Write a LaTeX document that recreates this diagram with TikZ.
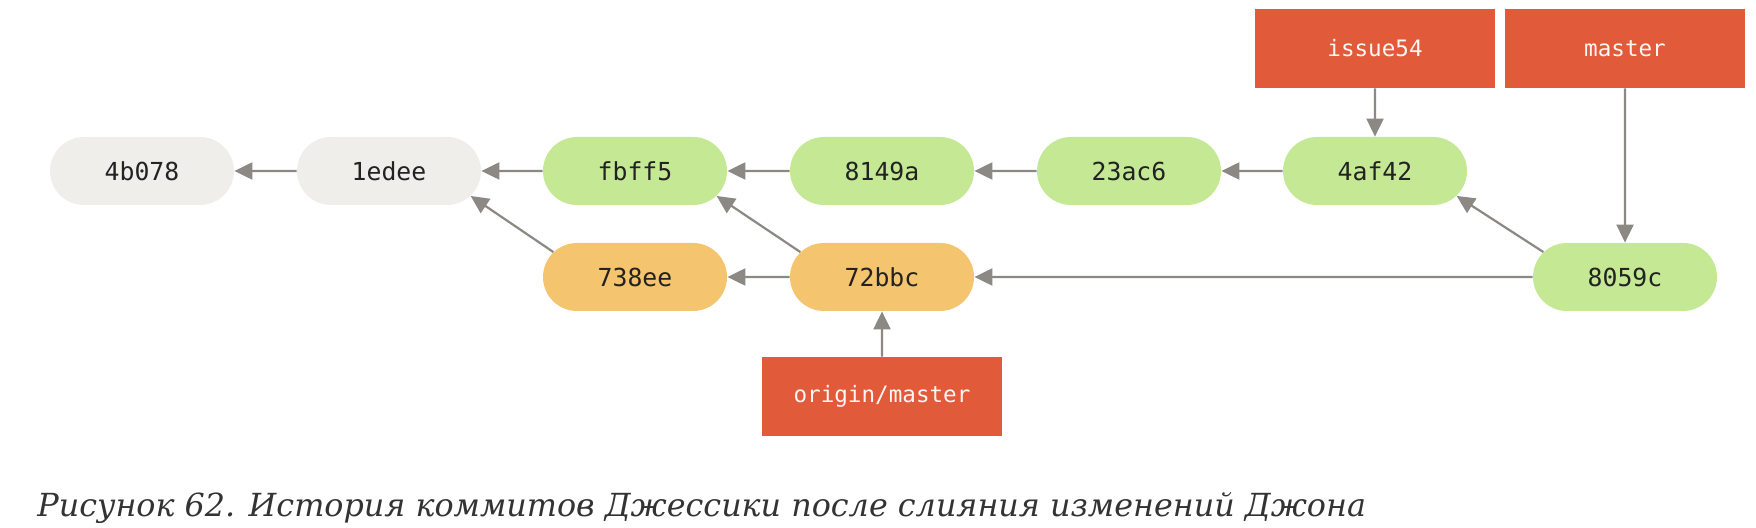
\documentclass[tikz,border=0pt]{standalone}
\usepackage{fontspec}
\setmainfont{DejaVu Serif}
\setmonofont{DejaVu Sans Mono}
\usetikzlibrary{arrows.meta,shapes.misc}
\definecolor{cgrey}{HTML}{EFEEEA}
\definecolor{cgreen}{HTML}{C4E894}
\definecolor{corange}{HTML}{F4C46F}
\definecolor{cred}{HTML}{E15A3A}
\definecolor{carrow}{HTML}{8C8883}
\definecolor{ctext}{HTML}{222222}
\definecolor{ccap}{HTML}{333333}
\begin{document}
\begin{tikzpicture}[x=0.5pt,y=-0.5pt,
  commit/.style={rounded rectangle, minimum width=92pt, minimum height=34pt, inner sep=0pt,
    font=\ttfamily\fontsize{12.4}{14}\selectfont, text=ctext},
  branch/.style={rectangle, fill=cred, minimum width=120pt, minimum height=39.5pt, inner sep=0pt,
    font=\ttfamily\fontsize{11.3}{13}\selectfont, text=white!94!cred},
  link/.style={-{Triangle[length=9pt,width=8.5pt]}, draw=carrow, fill=carrow, line width=1.1pt}]
\useasboundingbox (0,0) rectangle (1756,528);
% commits
\node[commit, fill=cgrey] (n4b078) at (142,171) {4b078};
\node[commit, fill=cgrey] (n1edee) at (389,171) {1edee};
\node[commit, fill=cgreen] (nfbff5) at (635,171) {fbff5};
\node[commit, fill=cgreen] (n8149a) at (882,171) {8149a};
\node[commit, fill=cgreen] (n23ac6) at (1129,171) {23ac6};
\node[commit, fill=cgreen] (n4af42) at (1375,171) {4af42};
\node[commit, fill=corange] (n738ee) at (635,277) {738ee};
\node[commit, fill=corange] (n72bbc) at (882,277) {72bbc};
\node[commit, fill=cgreen] (n8059c) at (1625,277) {8059c};
% branches
\node[branch] (issue) at (1375,48.5) {issue54};
\node[branch] (master) at (1625,48.5) {master};
\node[branch] (origin) at (882,396.5) {origin/master};
\draw[link] (n1edee) -- (n4b078);
\draw[link] (nfbff5) -- (n1edee);
\draw[link] (n8149a) -- (nfbff5);
\draw[link] (n23ac6) -- (n8149a);
\draw[link] (n4af42) -- (n23ac6);
\draw[link] (n72bbc) -- (n738ee);
\draw[link] (n8059c) -- (n72bbc);
\draw[link] (n738ee.163) -- (n1edee.-17);
\draw[link] (n72bbc.163) -- (nfbff5.-17);
\draw[link] (n8059c.163) -- (n4af42.-17);
\draw[link] (issue) -- (n4af42);
\draw[link] (master) -- (n8059c);
\draw[link] (origin) -- (n72bbc);
\node[anchor=base west, inner sep=0pt, font=\itshape\fontsize{15.9}{19}\selectfont, text=ccap] (cap) at (37,517)
  {Рисунок 62. История коммитов Джессики после слияния изменений Джона};
\end{tikzpicture}
\end{document}
